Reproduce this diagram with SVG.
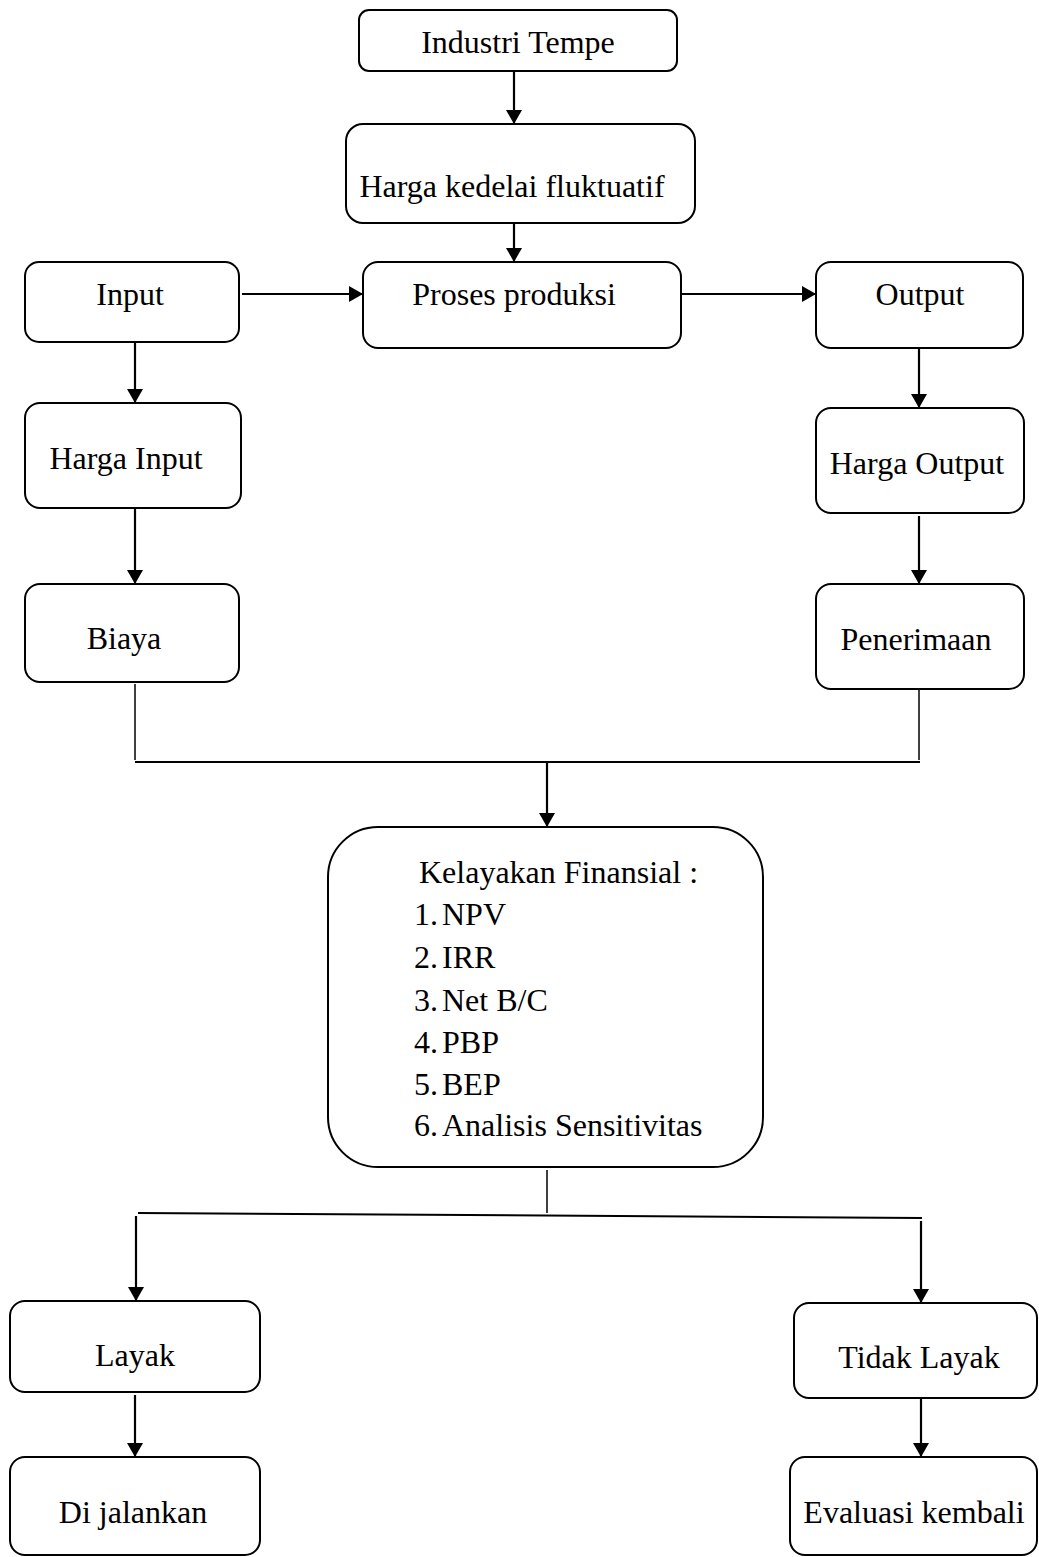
<svg xmlns="http://www.w3.org/2000/svg" width="1039" height="1557" viewBox="0 0 1039 1557">
<style>
  .box { fill: #ffffff; stroke: #000000; stroke-width: 2; }
  .lbl { font-family: "Liberation Serif", "Times New Roman", serif; font-size: 32px; fill: #000000; }
  .mid { text-anchor: middle; }
  .ln { fill: none; stroke: #000000; stroke-width: 2; }
  .ln1 { fill: none; stroke: #000000; stroke-width: 1.5; }
  .arr { fill: none; stroke: #000000; stroke-width: 2.2; marker-end: url(#ah); }
</style>
<defs>
  <marker id="ah" markerUnits="userSpaceOnUse" markerWidth="14" markerHeight="16" viewBox="0 0 14 16" refX="14" refY="8" orient="auto">
    <path d="M0,0 L14,8 L0,16 Z" fill="#000000"/>
  </marker>
</defs>
<rect width="1039" height="1557" fill="#ffffff"/>

<g id="connectors">
  <line class="arr" x1="514" y1="71" x2="514" y2="124"/>
  <line class="arr" x1="514" y1="223" x2="514" y2="262"/>
  <line class="arr" x1="242" y1="294" x2="363" y2="294"/>
  <line class="arr" x1="681" y1="294" x2="816" y2="294"/>
  <line class="arr" x1="135" y1="342" x2="135" y2="403"/>
  <line class="arr" x1="919" y1="348" x2="919" y2="408"/>
  <line class="arr" x1="135" y1="508" x2="135" y2="584"/>
  <line class="arr" x1="919" y1="516" x2="919" y2="584"/>
  <line class="ln1" x1="135" y1="684" x2="135" y2="760"/>
  <line class="ln1" x1="919" y1="688" x2="919" y2="760"/>
  <line class="ln" x1="135" y1="762" x2="920" y2="762"/>
  <line class="arr" x1="547" y1="762" x2="547" y2="827"/>
  <line class="ln1" x1="547" y1="1170" x2="547" y2="1213"/>
  <line class="ln" x1="138" y1="1213" x2="922" y2="1218"/>
  <line class="arr" x1="136" y1="1216" x2="136" y2="1301"/>
  <line class="arr" x1="921" y1="1221" x2="921" y2="1303"/>
  <line class="arr" x1="135" y1="1395" x2="135" y2="1457"/>
  <line class="arr" x1="921" y1="1398" x2="921" y2="1457"/>
</g>

<g id="industri-tempe">
  <rect class="box" x="359" y="10" width="318" height="61" rx="10"/>
  <text class="lbl mid" x="518" y="53">Industri Tempe</text>
</g>
<g id="harga-kedelai">
  <rect class="box" x="346" y="124" width="349" height="99" rx="17"/>
  <text class="lbl mid" x="512" y="197">Harga kedelai fluktuatif</text>
</g>
<g id="input">
  <rect class="box" x="25" y="262" width="214" height="80" rx="14"/>
  <text class="lbl mid" x="130" y="305">Input</text>
</g>
<g id="proses-produksi">
  <rect class="box" x="363" y="262" width="318" height="86" rx="15"/>
  <text class="lbl mid" x="514" y="305">Proses produksi</text>
</g>
<g id="output">
  <rect class="box" x="816" y="262" width="207" height="86" rx="15"/>
  <text class="lbl mid" x="920" y="305">Output</text>
</g>
<g id="harga-input">
  <rect class="box" x="25" y="403" width="216" height="105" rx="15"/>
  <text class="lbl mid" x="126" y="469">Harga Input</text>
</g>
<g id="harga-output">
  <rect class="box" x="816" y="408" width="208" height="105" rx="15"/>
  <text class="lbl mid" x="917" y="474">Harga Output</text>
</g>
<g id="biaya">
  <rect class="box" x="25" y="584" width="214" height="98" rx="15"/>
  <text class="lbl mid" x="124" y="649">Biaya</text>
</g>
<g id="penerimaan">
  <rect class="box" x="816" y="584" width="208" height="105" rx="15"/>
  <text class="lbl mid" x="916" y="650">Penerimaan</text>
</g>
<g id="kelayakan-finansial">
  <rect class="box" x="328" y="827" width="435" height="340" rx="50"/>
  <text class="lbl" x="419" y="883">Kelayakan Finansial :</text>
  <text class="lbl" x="414" y="925">1.</text><text class="lbl" x="442" y="925">NPV</text>
  <text class="lbl" x="414" y="968">2.</text><text class="lbl" x="442" y="968">IRR</text>
  <text class="lbl" x="414" y="1011">3.</text><text class="lbl" x="442" y="1011">Net B/C</text>
  <text class="lbl" x="414" y="1053">4.</text><text class="lbl" x="442" y="1053">PBP</text>
  <text class="lbl" x="414" y="1095">5.</text><text class="lbl" x="442" y="1095">BEP</text>
  <text class="lbl" x="414" y="1136">6.</text><text class="lbl" x="442" y="1136">Analisis Sensitivitas</text>
</g>
<g id="layak">
  <rect class="box" x="10" y="1301" width="250" height="91" rx="15"/>
  <text class="lbl mid" x="135" y="1366">Layak</text>
</g>
<g id="tidak-layak">
  <rect class="box" x="794" y="1303" width="243" height="95" rx="15"/>
  <text class="lbl mid" x="919" y="1368">Tidak Layak</text>
</g>
<g id="di-jalankan">
  <rect class="box" x="10" y="1457" width="250" height="98" rx="15"/>
  <text class="lbl mid" x="133" y="1523">Di jalankan</text>
</g>
<g id="evaluasi-kembali">
  <rect class="box" x="790" y="1457" width="247" height="98" rx="15"/>
  <text class="lbl mid" x="914" y="1523">Evaluasi kembali</text>
</g>
</svg>
